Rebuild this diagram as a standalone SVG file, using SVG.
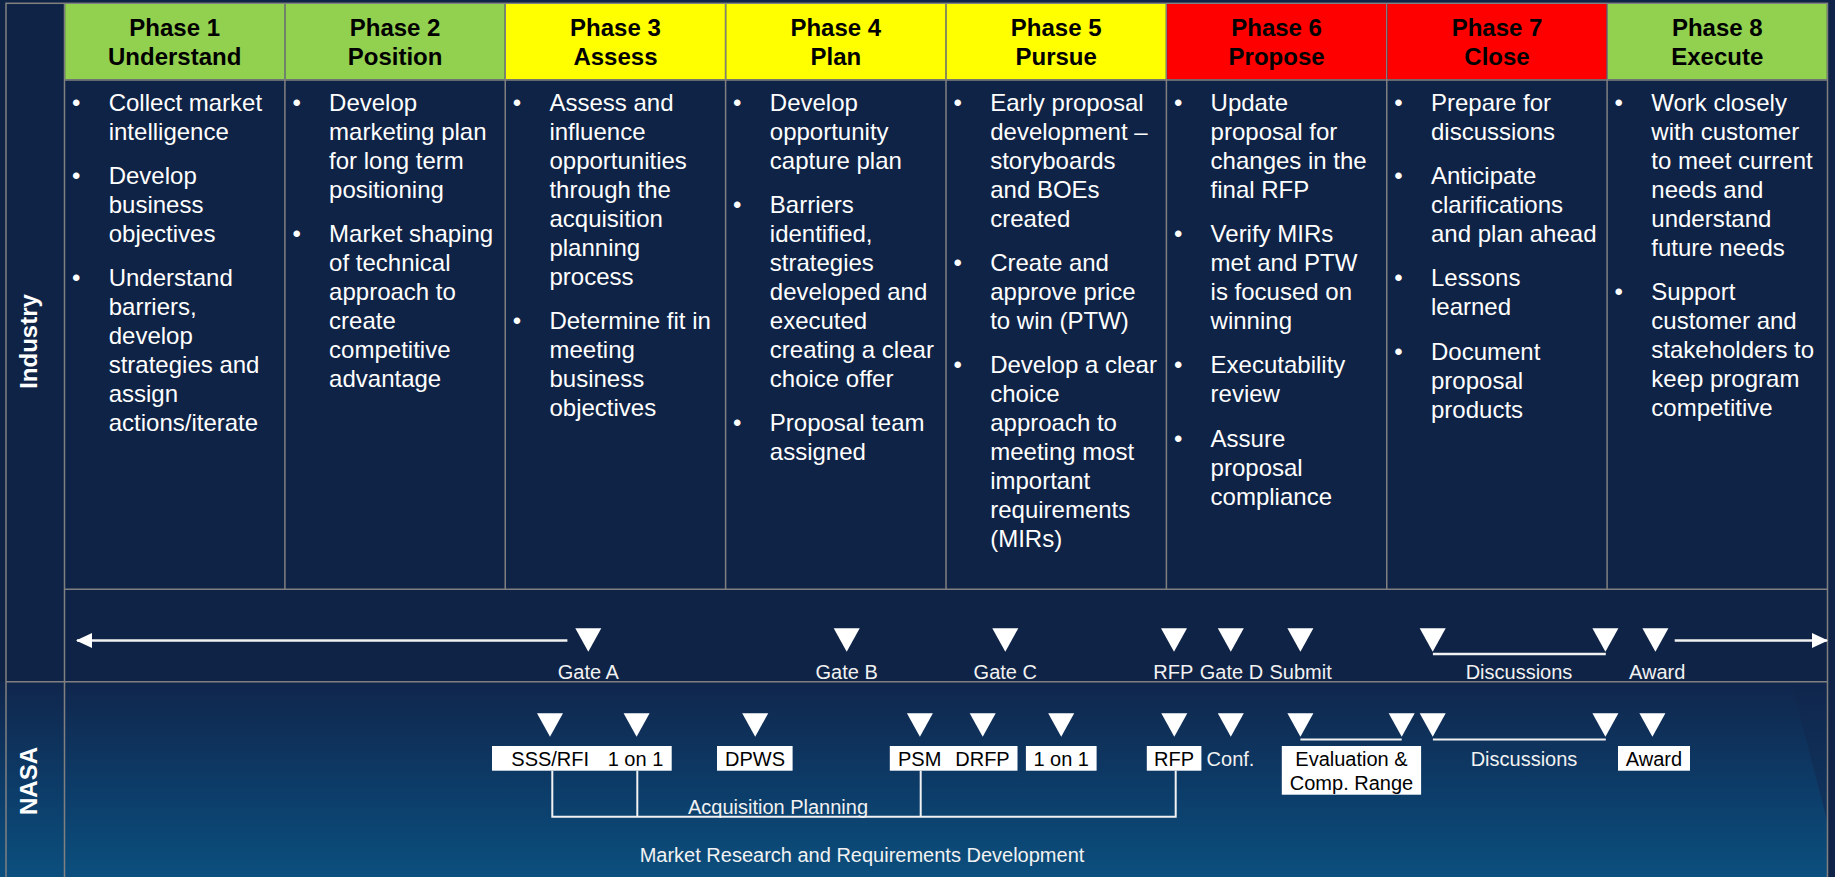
<svg xmlns="http://www.w3.org/2000/svg" xmlns:xlink="http://www.w3.org/1999/xlink" width="1835" height="877" viewBox="0 0 1835 877">
<defs>
<style>
.hd{font-family:"Liberation Sans",Arial,sans-serif;font-size:24px;font-weight:bold;fill:#000;text-anchor:middle}
.b{font-family:"Liberation Sans",Arial,sans-serif;font-size:24px;fill:#fff}
.lbl{font-family:"Liberation Sans",Arial,sans-serif;font-size:20px;fill:#f2f2f2;text-anchor:middle}
.blk{font-family:"Liberation Sans",Arial,sans-serif;font-size:20px;fill:#000;text-anchor:middle}
.side{font-family:"Liberation Sans",Arial,sans-serif;font-size:24px;font-weight:bold;fill:#fff;text-anchor:middle}
.grid{stroke:#808080;stroke-width:1.5;fill:none}
.ln{stroke:#f2f2f2;stroke-width:2.5;fill:none}
.thin{stroke:#f2f2f2;stroke-width:2;fill:none}
.box{fill:#fff}
.green{fill:#92d050}.yellow{fill:#ffff00}.red{fill:#ff0000}
</style>
<linearGradient id="nasaGrad" x1="0" y1="0" x2="0" y2="1">
<stop offset="0" stop-color="#10264c"/>
<stop offset="0.5" stop-color="#0d3a66"/>
<stop offset="1" stop-color="#0b4f7e"/>
</linearGradient>
<linearGradient id="wedgeGrad" x1="0" y1="0" x2="0" y2="1">
<stop offset="0" stop-color="#10264c"/>
<stop offset="1" stop-color="#0f355f"/>
</linearGradient>
<polygon id="tri" points="-13,0 13,0 0,23.4" fill="#fff"/>
<marker id="ah" viewBox="0 0 16 15" refX="15" refY="7.5" markerWidth="16" markerHeight="15" markerUnits="userSpaceOnUse" orient="auto">
<polygon points="0,0 16,7.5 0,15" fill="#fff"/>
</marker>
</defs>

<g id="background">
<rect x="0" y="0" width="1835" height="877" fill="#0f2346"/>
<rect x="0" y="682" width="1828" height="195" fill="url(#nasaGrad)"/>
<polygon points="1791,682 1827.5,682 1827.5,822" fill="url(#wedgeGrad)"/>
</g>

<g id="grid">
<rect class="grid" x="6" y="3.3" width="1821.5" height="880"/>
<line class="grid" x1="64.5" y1="3.3" x2="64.5" y2="877"/>
<line class="grid" x1="284.9" y1="3.3" x2="284.9" y2="589.3"/>
<line class="grid" x1="505.25" y1="3.3" x2="505.25" y2="589.3"/>
<line class="grid" x1="725.6" y1="3.3" x2="725.6" y2="589.3"/>
<line class="grid" x1="946" y1="3.3" x2="946" y2="589.3"/>
<line class="grid" x1="1166.4" y1="3.3" x2="1166.4" y2="589.3"/>
<line class="grid" x1="1386.75" y1="3.3" x2="1386.75" y2="589.3"/>
<line class="grid" x1="1607.1" y1="3.3" x2="1607.1" y2="589.3"/>
<line class="grid" x1="64.5" y1="589.3" x2="1827.5" y2="589.3"/>
<line class="grid" x1="6" y1="681.7" x2="1827.5" y2="681.7"/>
</g>

<g id="lane-industry"><text class="side" transform="translate(28,341.5) rotate(-90)" x="0" y="8.5">Industry</text></g>
<g id="lane-nasa"><text class="side" transform="translate(28,781) rotate(-90)" x="0" y="8.5">NASA</text></g>

<g id="phase1">
<rect class="green" x="65.25" y="4" width="218.9" height="75.3"/>
<line class="grid" x1="64.5" y1="80" x2="284.9" y2="80"/>
<text class="hd"><tspan x="174.7" y="36">Phase 1</tspan><tspan x="174.7" y="65">Understand</tspan></text>
<text class="b"><tspan x="72" y="110.7">•</tspan><tspan x="72" y="184">•</tspan><tspan x="72" y="286.3">•</tspan></text>
<text class="b"><tspan x="108.7" y="110.7">Collect market</tspan><tspan x="108.7" y="139.7">intelligence</tspan><tspan x="108.7" y="184">Develop</tspan><tspan x="108.7" y="213">business</tspan><tspan x="108.7" y="242">objectives</tspan><tspan x="108.7" y="286.3">Understand</tspan><tspan x="108.7" y="315.3">barriers,</tspan><tspan x="108.7" y="344.3">develop</tspan><tspan x="108.7" y="373.3">strategies and</tspan><tspan x="108.7" y="402.3">assign</tspan><tspan x="108.7" y="431.3">actions/iterate</tspan></text>
</g>

<g id="phase2">
<rect class="green" x="285.65" y="4" width="218.85" height="75.3"/>
<line class="grid" x1="284.9" y1="80" x2="505.25" y2="80"/>
<text class="hd"><tspan x="395.1" y="36">Phase 2</tspan><tspan x="395.1" y="65">Position</tspan></text>
<text class="b"><tspan x="292.4" y="110.7">•</tspan><tspan x="292.4" y="242">•</tspan></text>
<text class="b"><tspan x="329.1" y="110.7">Develop</tspan><tspan x="329.1" y="139.7">marketing plan</tspan><tspan x="329.1" y="168.7">for long term</tspan><tspan x="329.1" y="197.7">positioning</tspan><tspan x="329.1" y="242">Market shaping</tspan><tspan x="329.1" y="271">of technical</tspan><tspan x="329.1" y="300">approach to</tspan><tspan x="329.1" y="329">create</tspan><tspan x="329.1" y="358">competitive</tspan><tspan x="329.1" y="387">advantage</tspan></text>
</g>

<g id="phase3">
<rect class="yellow" x="506" y="4" width="218.85" height="75.3"/>
<line class="grid" x1="505.25" y1="80" x2="725.6" y2="80"/>
<text class="hd"><tspan x="615.45" y="36">Phase 3</tspan><tspan x="615.45" y="65">Assess</tspan></text>
<text class="b"><tspan x="512.75" y="110.7">•</tspan><tspan x="512.75" y="329">•</tspan></text>
<text class="b"><tspan x="549.45" y="110.7">Assess and</tspan><tspan x="549.45" y="139.7">influence</tspan><tspan x="549.45" y="168.7">opportunities</tspan><tspan x="549.45" y="197.7">through the</tspan><tspan x="549.45" y="226.7">acquisition</tspan><tspan x="549.45" y="255.7">planning</tspan><tspan x="549.45" y="284.7">process</tspan><tspan x="549.45" y="329">Determine fit in</tspan><tspan x="549.45" y="358">meeting</tspan><tspan x="549.45" y="387">business</tspan><tspan x="549.45" y="416">objectives</tspan></text>
</g>

<g id="phase4">
<rect class="yellow" x="726.35" y="4" width="218.9" height="75.3"/>
<line class="grid" x1="725.6" y1="80" x2="946" y2="80"/>
<text class="hd"><tspan x="835.8" y="36">Phase 4</tspan><tspan x="835.8" y="65">Plan</tspan></text>
<text class="b"><tspan x="733.1" y="110.7">•</tspan><tspan x="733.1" y="213">•</tspan><tspan x="733.1" y="431.3">•</tspan></text>
<text class="b"><tspan x="769.8" y="110.7">Develop</tspan><tspan x="769.8" y="139.7">opportunity</tspan><tspan x="769.8" y="168.7">capture plan</tspan><tspan x="769.8" y="213">Barriers</tspan><tspan x="769.8" y="242">identified,</tspan><tspan x="769.8" y="271">strategies</tspan><tspan x="769.8" y="300">developed and</tspan><tspan x="769.8" y="329">executed</tspan><tspan x="769.8" y="358">creating a clear</tspan><tspan x="769.8" y="387">choice offer</tspan><tspan x="769.8" y="431.3">Proposal team</tspan><tspan x="769.8" y="460.3">assigned</tspan></text>
</g>

<g id="phase5">
<rect class="yellow" x="946.75" y="4" width="218.9" height="75.3"/>
<line class="grid" x1="946" y1="80" x2="1166.4" y2="80"/>
<text class="hd"><tspan x="1056.2" y="36">Phase 5</tspan><tspan x="1056.2" y="65">Pursue</tspan></text>
<text class="b"><tspan x="953.5" y="110.7">•</tspan><tspan x="953.5" y="271">•</tspan><tspan x="953.5" y="373.3">•</tspan></text>
<text class="b"><tspan x="990.2" y="110.7">Early proposal</tspan><tspan x="990.2" y="139.7">development –</tspan><tspan x="990.2" y="168.7">storyboards</tspan><tspan x="990.2" y="197.7">and BOEs</tspan><tspan x="990.2" y="226.7">created</tspan><tspan x="990.2" y="271">Create and</tspan><tspan x="990.2" y="300">approve price</tspan><tspan x="990.2" y="329">to win (PTW)</tspan><tspan x="990.2" y="373.3">Develop a clear</tspan><tspan x="990.2" y="402.3">choice</tspan><tspan x="990.2" y="431.3">approach to</tspan><tspan x="990.2" y="460.3">meeting most</tspan><tspan x="990.2" y="489.3">important</tspan><tspan x="990.2" y="518.3">requirements</tspan><tspan x="990.2" y="547.3">(MIRs)</tspan></text>
</g>

<g id="phase6">
<rect class="red" x="1167.15" y="4" width="218.85" height="75.3"/>
<line class="grid" x1="1166.4" y1="80" x2="1386.75" y2="80"/>
<text class="hd"><tspan x="1276.6" y="36">Phase 6</tspan><tspan x="1276.6" y="65">Propose</tspan></text>
<text class="b"><tspan x="1173.9" y="110.7">•</tspan><tspan x="1173.9" y="242">•</tspan><tspan x="1173.9" y="373.3">•</tspan><tspan x="1173.9" y="446.6">•</tspan></text>
<text class="b"><tspan x="1210.6" y="110.7">Update</tspan><tspan x="1210.6" y="139.7">proposal for</tspan><tspan x="1210.6" y="168.7">changes in the</tspan><tspan x="1210.6" y="197.7">final RFP</tspan><tspan x="1210.6" y="242">Verify MIRs</tspan><tspan x="1210.6" y="271">met and PTW</tspan><tspan x="1210.6" y="300">is focused on</tspan><tspan x="1210.6" y="329">winning</tspan><tspan x="1210.6" y="373.3">Executability</tspan><tspan x="1210.6" y="402.3">review</tspan><tspan x="1210.6" y="446.6">Assure</tspan><tspan x="1210.6" y="475.6">proposal</tspan><tspan x="1210.6" y="504.6">compliance</tspan></text>
</g>

<g id="phase7">
<rect class="red" x="1387.5" y="4" width="218.85" height="75.3"/>
<line class="grid" x1="1386.75" y1="80" x2="1607.1" y2="80"/>
<text class="hd"><tspan x="1497" y="36">Phase 7</tspan><tspan x="1497" y="65">Close</tspan></text>
<text class="b"><tspan x="1394.25" y="110.7">•</tspan><tspan x="1394.25" y="184">•</tspan><tspan x="1394.25" y="286.3">•</tspan><tspan x="1394.25" y="359.6">•</tspan></text>
<text class="b"><tspan x="1431" y="110.7">Prepare for</tspan><tspan x="1431" y="139.7">discussions</tspan><tspan x="1431" y="184">Anticipate</tspan><tspan x="1431" y="213">clarifications</tspan><tspan x="1431" y="242">and plan ahead</tspan><tspan x="1431" y="286.3">Lessons</tspan><tspan x="1431" y="315.3">learned</tspan><tspan x="1431" y="359.6">Document</tspan><tspan x="1431" y="388.6">proposal</tspan><tspan x="1431" y="417.6">products</tspan></text>
</g>

<g id="phase8">
<rect class="green" x="1607.85" y="4" width="218.9" height="75.3"/>
<line class="grid" x1="1607.1" y1="80" x2="1827.5" y2="80"/>
<text class="hd"><tspan x="1717.3" y="36">Phase 8</tspan><tspan x="1717.3" y="65">Execute</tspan></text>
<text class="b"><tspan x="1614.6" y="110.7">•</tspan><tspan x="1614.6" y="300">•</tspan></text>
<text class="b"><tspan x="1651.3" y="110.7">Work closely</tspan><tspan x="1651.3" y="139.7">with customer</tspan><tspan x="1651.3" y="168.7">to meet current</tspan><tspan x="1651.3" y="197.7">needs and</tspan><tspan x="1651.3" y="226.7">understand</tspan><tspan x="1651.3" y="255.7">future needs</tspan><tspan x="1651.3" y="300">Support</tspan><tspan x="1651.3" y="329">customer and</tspan><tspan x="1651.3" y="358">stakeholders to</tspan><tspan x="1651.3" y="387">keep program</tspan><tspan x="1651.3" y="416">competitive</tspan></text>
</g>

<g id="connectors">
<line class="ln" x1="567.4" y1="640.5" x2="77" y2="640.5" marker-end="url(#ah)"/>
<line class="ln" x1="1674.7" y1="640.5" x2="1827" y2="640.5" marker-end="url(#ah)"/>
<line class="ln" x1="1432.9" y1="654" x2="1605.8" y2="654"/>
<line class="thin" x1="1300.4" y1="739.5" x2="1401.7" y2="739.5"/>
<line class="thin" x1="1432.9" y1="739.5" x2="1605.8" y2="739.5"/>
<polyline class="thin" points="552.3,770.7 552.3,816.7 1175.7,816.7 1175.7,770.7"/>
<line class="thin" x1="637.3" y1="770.7" x2="637.3" y2="816.7"/>
<line class="thin" x1="920.7" y1="770.7" x2="920.7" y2="816.7"/>
</g>

<g id="industry-gate-a"><use href="#tri" x="588.3" y="628.3"/><text class="lbl" x="588.3" y="679">Gate A</text></g>
<g id="industry-gate-b"><use href="#tri" x="846.7" y="628.3"/><text class="lbl" x="846.7" y="679">Gate B</text></g>
<g id="industry-gate-c"><use href="#tri" x="1005.3" y="628.3"/><text class="lbl" x="1005.3" y="679">Gate C</text></g>
<g id="industry-rfp"><use href="#tri" x="1174" y="628.3"/><text class="lbl" x="1173.3" y="679">RFP</text></g>
<g id="industry-gate-d"><use href="#tri" x="1230.8" y="628.3"/><text class="lbl" x="1231.4" y="679">Gate D</text></g>
<g id="industry-submit"><use href="#tri" x="1300.4" y="628.3"/><text class="lbl" x="1300.6" y="679">Submit</text></g>
<g id="industry-discussions"><use href="#tri" x="1432.7" y="628.3"/><use href="#tri" x="1605.4" y="628.3"/><text class="lbl" x="1519" y="679">Discussions</text></g>
<g id="industry-award"><use href="#tri" x="1655.4" y="628.3"/><text class="lbl" x="1657.2" y="679">Award</text></g>

<g id="nasa-sss-rfi"><use href="#tri" x="550" y="713.3"/><use href="#tri" x="636.6" y="713.3"/><rect class="box" x="492" y="746" width="179.7" height="24.7"/><text class="blk" x="550.2" y="766">SSS/RFI</text><text class="blk" x="635.5" y="766">1 on 1</text></g>
<g id="nasa-dpws"><use href="#tri" x="755.2" y="713.3"/><rect class="box" x="717" y="746" width="75.6" height="24.7"/><text class="blk" x="755" y="766">DPWS</text></g>
<g id="nasa-psm-drfp"><use href="#tri" x="919.9" y="713.3"/><use href="#tri" x="982.7" y="713.3"/><rect class="box" x="889.8" y="746" width="127.7" height="24.7"/><text class="blk" x="919.7" y="766">PSM</text><text class="blk" x="982.5" y="766">DRFP</text></g>
<g id="nasa-1on1"><use href="#tri" x="1061.2" y="713.3"/><rect class="box" x="1025.9" y="746" width="70.7" height="24.7"/><text class="blk" x="1061.2" y="766">1 on 1</text></g>
<g id="nasa-rfp"><use href="#tri" x="1174.3" y="713.3"/><rect class="box" x="1146.8" y="746" width="54.6" height="24.7"/><text class="blk" x="1174" y="766">RFP</text></g>
<g id="nasa-conf"><use href="#tri" x="1230.8" y="713.3"/><text class="lbl" x="1230.5" y="766">Conf.</text></g>
<g id="nasa-evaluation"><use href="#tri" x="1300.4" y="713.3"/><use href="#tri" x="1401.7" y="713.3"/><rect class="box" x="1281.8" y="746" width="139.3" height="48.7"/><text class="blk"><tspan x="1351.5" y="766">Evaluation &amp;</tspan><tspan x="1351.5" y="789.5">Comp. Range</tspan></text></g>
<g id="nasa-discussions"><use href="#tri" x="1432.7" y="713.3"/><use href="#tri" x="1605.4" y="713.3"/><text class="lbl" x="1524" y="766">Discussions</text></g>
<g id="nasa-award"><use href="#tri" x="1652.4" y="713.3"/><rect class="box" x="1618" y="746" width="72" height="24.7"/><text class="blk" x="1654" y="766">Award</text></g>

<g id="nasa-labels">
<text class="lbl" x="778" y="814.3">Acquisition Planning</text>
<text class="lbl" x="862" y="861.7">Market Research and Requirements Development</text>
</g>
</svg>
